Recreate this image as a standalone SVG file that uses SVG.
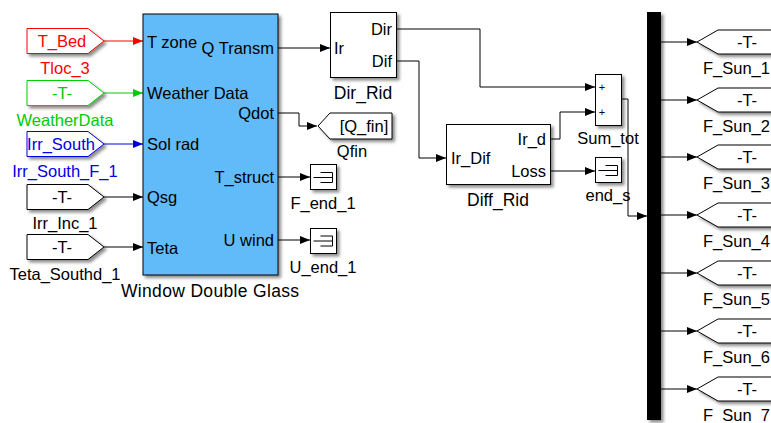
<svg xmlns="http://www.w3.org/2000/svg" width="771" height="423" viewBox="0 0 771 423">
<style>
text{font-family:"Liberation Sans",Arial,sans-serif;font-size:16.5px;fill:#000}
.nm{font-size:17.5px}
.blk{fill:#fff;stroke:#000;stroke-width:1}
.main{fill:#62BBF9;stroke:#000;stroke-width:1}
.ln{fill:none;stroke:#000;stroke-width:1}
.mid{text-anchor:middle}
.end{text-anchor:end}
.sh{filter:url(#shadow)}
</style>
<defs>
<filter id="shadow" x="-20%" y="-20%" width="150%" height="150%">
<feDropShadow dx="2.5" dy="2.5" stdDeviation="1.5" flood-color="#000" flood-opacity="0.45"/>
</filter>
<marker id="ak" viewBox="0 0 10 8" refX="10" refY="4" markerWidth="10" markerHeight="8" markerUnits="userSpaceOnUse" orient="auto"><path d="M0,0L10,4L0,8Z" fill="#000"/></marker>
<marker id="ar" viewBox="0 0 10 8" refX="10" refY="4" markerWidth="10" markerHeight="8" markerUnits="userSpaceOnUse" orient="auto"><path d="M0,0L10,4L0,8Z" fill="#F00"/></marker>
<marker id="ag" viewBox="0 0 10 8" refX="10" refY="4" markerWidth="10" markerHeight="8" markerUnits="userSpaceOnUse" orient="auto"><path d="M0,0L10,4L0,8Z" fill="#00CC00"/></marker>
<marker id="ab" viewBox="0 0 10 8" refX="10" refY="4" markerWidth="10" markerHeight="8" markerUnits="userSpaceOnUse" orient="auto"><path d="M0,0L10,4L0,8Z" fill="#0000E6"/></marker>
<symbol id="term" overflow="visible"><path d="M3,14H22M10,9H22V19H10" fill="none" stroke="#000" stroke-width="1"/></symbol>
</defs>

<g id="connectors">
<path d="M104,41H143" fill="none" stroke="#F00" marker-end="url(#ar)"/>
<path d="M104,93H143" fill="none" stroke="#00CC00" marker-end="url(#ag)"/>
<path d="M104,144H143" fill="none" stroke="#0000E6" marker-end="url(#ab)"/>
<path d="M104,197H143" class="ln" marker-end="url(#ak)"/>
<path d="M104,247H143" class="ln" marker-end="url(#ak)"/>
<path d="M278,48H330" class="ln" marker-end="url(#ak)"/>
<path d="M278,113H299V126H317" class="ln" marker-end="url(#ak)"/>
<path d="M278,177H310" class="ln" marker-end="url(#ak)"/>
<path d="M278,240H310" class="ln" marker-end="url(#ak)"/>
<path d="M396,29H480V87H595" class="ln" marker-end="url(#ak)"/>
<path d="M396,61H419V158H446" class="ln" marker-end="url(#ak)"/>
<path d="M550,139H560V112H595" class="ln" marker-end="url(#ak)"/>
<path d="M550,171H595" class="ln" marker-end="url(#ak)"/>
<path d="M621,99H628V216H647" class="ln" marker-end="url(#ak)"/>
<path d="M661,42H697" class="ln" marker-end="url(#ak)"/>
<path d="M661,100H697" class="ln" marker-end="url(#ak)"/>
<path d="M661,157H697" class="ln" marker-end="url(#ak)"/>
<path d="M661,215H697" class="ln" marker-end="url(#ak)"/>
<path d="M661,273H697" class="ln" marker-end="url(#ak)"/>
<path d="M661,331H697" class="ln" marker-end="url(#ak)"/>
<path d="M661,389H697" class="ln" marker-end="url(#ak)"/>
</g>

<g id="from_T_Bed">
<path class="sh" d="M27,28.5H88L104,41L88,53.5H27Z" fill="#fff" stroke="#F00"/>
<text x="62" y="47" class="mid" style="fill:#F00">T_Bed</text>
<text x="65" y="74" class="mid" style="fill:#F00">Tloc_3</text>
</g>
<g id="from_WeatherData">
<path class="sh" d="M27,80.5H88L104,93L88,105.5H27Z" fill="#fff" stroke="#00CC00"/>
<text x="62" y="99" class="mid" style="fill:#00CC00">-T-</text>
<text x="65" y="126" class="mid" style="fill:#00CC00">WeatherData</text>
</g>
<g id="from_Irr_South">
<path class="sh" d="M27,131.5H88L104,144L88,156.5H27Z" fill="#fff" stroke="#0000E6"/>
<text x="61" y="150" class="mid" style="fill:#0000E6">Irr_South</text>
<text x="65" y="177" class="mid" style="fill:#0000E6">Irr_South_F_1</text>
</g>
<g id="from_Irr_Inc_1">
<path class="sh" d="M27,184.5H88L104,197L88,209.5H27Z" fill="#fff" stroke="#000"/>
<text x="62" y="203" class="mid">-T-</text>
<text x="65" y="229" class="mid">Irr_Inc_1</text>
</g>
<g id="from_Teta_Southd_1">
<path class="sh" d="M27,234.5H88L104,247L88,259.5H27Z" fill="#fff" stroke="#000"/>
<text x="62" y="253" class="mid">-T-</text>
<text x="65" y="280" class="mid">Teta_Southd_1</text>
</g>

<g id="window_double_glass">
<rect class="main sh" x="143" y="14" width="135" height="261"/>
<text x="147" y="48">T zone</text>
<text x="147" y="99">Weather Data</text>
<text x="147" y="150">Sol rad</text>
<text x="147" y="203">Qsg</text>
<text x="147" y="254">Teta</text>
<text x="274" y="54" class="end">Q Transm</text>
<text x="274" y="119" class="end">Qdot</text>
<text x="274" y="183" class="end">T_struct</text>
<text x="274" y="246" class="end">U wind</text>
<text x="210" y="297" class="mid nm" textLength="178" lengthAdjust="spacing">Window Double Glass</text>
</g>

<g id="goto_Qfin">
<path class="sh" d="M318,126L330,113H392V139H330Z" fill="#fff" stroke="#000"/>
<text x="364" y="132" class="mid">[Q_fin]</text>
<text x="352" y="157" class="mid">Qfin</text>
</g>

<g id="F_end_1">
<rect class="blk sh" x="310.5" y="164.5" width="26" height="25"/>
<use href="#term" x="310.5" y="163.5"/>
<text x="323" y="209" class="mid">F_end_1</text>
</g>
<g id="U_end_1">
<rect class="blk sh" x="310.5" y="228.5" width="26" height="25"/>
<use href="#term" x="310.5" y="227"/>
<text x="323" y="273" class="mid">U_end_1</text>
</g>

<g id="Dir_Rid">
<rect class="blk sh" x="330.5" y="12.5" width="66" height="65"/>
<text x="334" y="54">Ir</text>
<text x="392" y="35" class="end">Dir</text>
<text x="392" y="67" class="end">Dif</text>
<text x="363" y="99" class="mid nm">Dir_Rid</text>
</g>

<g id="Diff_Rid">
<rect class="blk sh" x="446.5" y="124.5" width="104" height="60"/>
<text x="451" y="164">Ir_Dif</text>
<text x="546" y="145" class="end">Ir_d</text>
<text x="546" y="177" class="end">Loss</text>
<text x="498" y="206" class="mid nm">Diff_Rid</text>
</g>

<g id="Sum_tot">
<rect class="blk sh" x="595.5" y="74.5" width="26" height="51"/>
<text x="602" y="91" class="mid" style="font-size:11px">+</text>
<text x="602" y="116" class="mid" style="font-size:11px">+</text>
<text x="608" y="144" class="mid">Sum_tot</text>
</g>

<g id="end_s">
<rect class="blk sh" x="595.5" y="157.5" width="26" height="25"/>
<use href="#term" x="595.5" y="156.5"/>
<text x="608" y="201" class="mid">end_s</text>
</g>

<g id="bus">
<rect class="sh" x="647" y="12" width="14" height="408" fill="#000"/>
</g>

<g id="goto_F_Sun_1"><path class="sh" d="M697,42L718,30H780V54H718Z" fill="#fff" stroke="#000"/><text x="747" y="48" class="mid">-T-</text><text x="703" y="74">F_Sun_1</text></g>
<g id="goto_F_Sun_2"><path class="sh" d="M697,100L718,88H780V112H718Z" fill="#fff" stroke="#000"/><text x="747" y="106" class="mid">-T-</text><text x="703" y="132">F_Sun_2</text></g>
<g id="goto_F_Sun_3"><path class="sh" d="M697,157L718,145H780V169H718Z" fill="#fff" stroke="#000"/><text x="747" y="163" class="mid">-T-</text><text x="703" y="189">F_Sun_3</text></g>
<g id="goto_F_Sun_4"><path class="sh" d="M697,215L718,203H780V227H718Z" fill="#fff" stroke="#000"/><text x="747" y="221" class="mid">-T-</text><text x="703" y="247">F_Sun_4</text></g>
<g id="goto_F_Sun_5"><path class="sh" d="M697,273L718,261H780V285H718Z" fill="#fff" stroke="#000"/><text x="747" y="279" class="mid">-T-</text><text x="703" y="305">F_Sun_5</text></g>
<g id="goto_F_Sun_6"><path class="sh" d="M697,331L718,319H780V343H718Z" fill="#fff" stroke="#000"/><text x="747" y="337" class="mid">-T-</text><text x="703" y="363">F_Sun_6</text></g>
<g id="goto_F_Sun_7"><path class="sh" d="M697,389L718,377H780V401H718Z" fill="#fff" stroke="#000"/><text x="747" y="395" class="mid">-T-</text><text x="703" y="421">F_Sun_7</text></g>
</svg>
